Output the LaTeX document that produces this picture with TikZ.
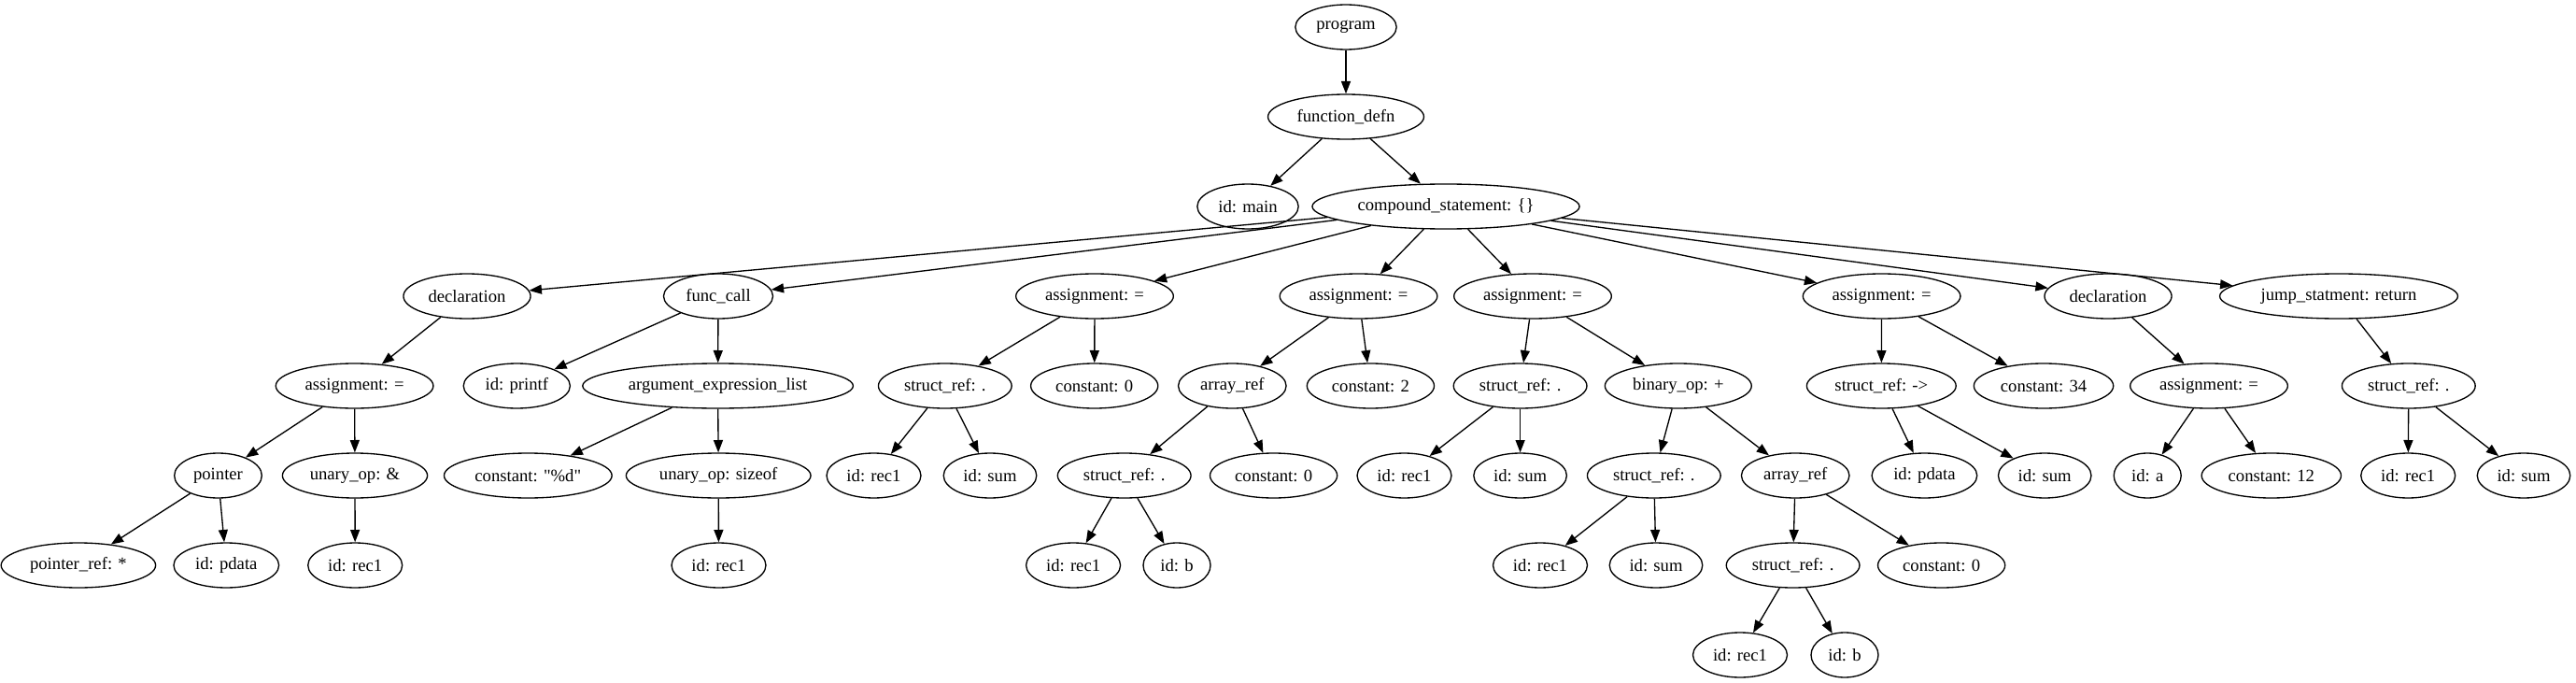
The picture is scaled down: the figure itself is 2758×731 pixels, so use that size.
\documentclass[tikz,border=0pt]{standalone}
\usepackage{fontspec}
\setmainfont{Liberation Serif}
\usetikzlibrary{shapes.geometric,arrows.meta}
\tikzset{
  ast/.style={draw, ellipse, line width=1pt, inner xsep=5pt, inner ysep=2pt,
    minimum width=54pt, minimum height=36pt, font=\fontsize{14}{16.8}\selectfont},
  edge/.style={line width=1pt, -{Triangle[length=10pt,width=7.5pt]}}
}
\begin{document}
\begin{tikzpicture}[x=0.75pt, y=-0.75pt]
\useasboundingbox (0,0) rectangle (2758,731);
% rows 0-3
\node[ast] (prog) at (1441,29) {program};
\node[ast] (fdef) at (1441,125) {function\_defn};
\node[ast] (idmain) at (1336,221) {id: main};
\node[ast] (cstmt) at (1548,221) {compound\_statement: \{\}};
\node[ast] (decl1) at (500,317) {declaration};
\node[ast] (fcall) at (769,317) {func\_call};
\node[ast] (asg1) at (1172,317) {assignment: =};
\node[ast] (asg2) at (1454.5,317) {assignment: =};
\node[ast] (asg3) at (1641,317) {assignment: =};
\node[ast] (asg4) at (2014.6,317) {assignment: =};
\node[ast] (decl2) at (2257,317) {declaration};
\node[ast] (jump) at (2504,317) {jump\_statment: return};
% row 4
\node[ast] (asgA) at (379.6,413) {assignment: =};
\node[ast] (printf) at (553.3,413) {id: printf};
\node[ast] (args) at (768.6,413) {argument\_expression\_list};
\node[ast] (sref1) at (1011.8,413) {struct\_ref: .};
\node[ast] (c0a) at (1171.7,413) {constant: 0};
\node[ast] (aref1) at (1319.3,413) {array\_ref};
\node[ast] (c2) at (1467.4,413) {constant: 2};
\node[ast] (sref3) at (1627.6,413) {struct\_ref: .};
\node[ast] (binop) at (1796.8,413) {binary\_op: +};
\node[ast] (sref6) at (2014.3,413) {struct\_ref: ->};
\node[ast] (c34) at (2188,413) {constant: 34};
\node[ast] (asgB) at (2365,413) {assignment: =};
\node[ast] (sref7) at (2578.8,413) {struct\_ref: .};
% row 5
\node[ast] (ptr) at (233.5,509) {pointer};
\node[ast] (uop) at (380,509) {unary\_op: \&};
\node[ast] (cfmt) at (565.3,509) {constant: \textquotedbl\%d\textquotedbl};
\node[ast] (sizeof) at (769.2,509) {unary\_op: sizeof};
\node[ast] (rec1c) at (935.5,509) {id: rec1};
\node[ast] (sum1) at (1060,509) {id: sum};
\node[ast] (sref2) at (1203.7,509) {struct\_ref: .};
\node[ast] (c0b) at (1363.6,509) {constant: 0};
\node[ast] (rec1e) at (1503.5,509) {id: rec1};
\node[ast] (sum2) at (1627.6,509) {id: sum};
\node[ast] (sref4) at (1770.8,509) {struct\_ref: .};
\node[ast] (aref2) at (1922.2,509) {array\_ref};
\node[ast] (pdata2) at (2060.4,509) {id: pdata};
\node[ast] (sum4) at (2189.2,509) {id: sum};
\node[ast] (ida) at (2299.2,509) {id: a};
\node[ast] (c12) at (2431.8,509) {constant: 12};
\node[ast] (rec1h) at (2578.2,509) {id: rec1};
\node[ast] (sum5) at (2702,509) {id: sum};
% row 6
\node[ast] (pref) at (83.9,605) {pointer\_ref: *};
\node[ast] (pdata) at (242.3,605) {id: pdata};
\node[ast] (rec1a) at (380.2,605) {id: rec1};
\node[ast] (rec1b) at (769.5,605) {id: rec1};
\node[ast] (rec1d) at (1149.1,605) {id: rec1};
\node[ast] (b1) at (1260,605) {id: b};
\node[ast] (rec1f) at (1649,605) {id: rec1};
\node[ast] (sum3) at (1773,605) {id: sum};
\node[ast] (sref5) at (1919.6,605) {struct\_ref: .};
\node[ast] (c0c) at (2078.6,605) {constant: 0};
% row 7
\node[ast] (rec1g) at (1863,701) {id: rec1};
\node[ast] (b2) at (1975,701) {id: b};
% edges
\draw[edge] (prog) -- (fdef);
\draw[edge] (fdef) -- (idmain);
\draw[edge] (fdef) -- (cstmt);
\draw[edge] (cstmt) -- (decl1);
\draw[edge] (cstmt) -- (fcall);
\draw[edge] (cstmt) -- (asg1);
\draw[edge] (cstmt) -- (asg2);
\draw[edge] (cstmt) -- (asg3);
\draw[edge] (cstmt) -- (asg4);
\draw[edge] (cstmt) -- (decl2);
\draw[edge] (cstmt) -- (jump);
\draw[edge] (decl1) -- (asgA);
\draw[edge] (asgA) -- (ptr);
\draw[edge] (asgA) -- (uop);
\draw[edge] (ptr) -- (pref);
\draw[edge] (ptr) -- (pdata);
\draw[edge] (uop) -- (rec1a);
\draw[edge] (fcall) -- (printf);
\draw[edge] (fcall) -- (args);
\draw[edge] (args) -- (cfmt);
\draw[edge] (args) -- (sizeof);
\draw[edge] (sizeof) -- (rec1b);
\draw[edge] (asg1) -- (sref1);
\draw[edge] (asg1) -- (c0a);
\draw[edge] (sref1) -- (rec1c);
\draw[edge] (sref1) -- (sum1);
\draw[edge] (asg2) -- (aref1);
\draw[edge] (asg2) -- (c2);
\draw[edge] (aref1) -- (sref2);
\draw[edge] (aref1) -- (c0b);
\draw[edge] (sref2) -- (rec1d);
\draw[edge] (sref2) -- (b1);
\draw[edge] (asg3) -- (sref3);
\draw[edge] (asg3) -- (binop);
\draw[edge] (sref3) -- (rec1e);
\draw[edge] (sref3) -- (sum2);
\draw[edge] (binop) -- (sref4);
\draw[edge] (binop) -- (aref2);
\draw[edge] (sref4) -- (rec1f);
\draw[edge] (sref4) -- (sum3);
\draw[edge] (aref2) -- (sref5);
\draw[edge] (aref2) -- (c0c);
\draw[edge] (sref5) -- (rec1g);
\draw[edge] (sref5) -- (b2);
\draw[edge] (asg4) -- (sref6);
\draw[edge] (asg4) -- (c34);
\draw[edge] (sref6) -- (pdata2);
\draw[edge] (sref6) -- (sum4);
\draw[edge] (decl2) -- (asgB);
\draw[edge] (asgB) -- (ida);
\draw[edge] (asgB) -- (c12);
\draw[edge] (jump) -- (sref7);
\draw[edge] (sref7) -- (rec1h);
\draw[edge] (sref7) -- (sum5);
\end{tikzpicture}
\end{document}
